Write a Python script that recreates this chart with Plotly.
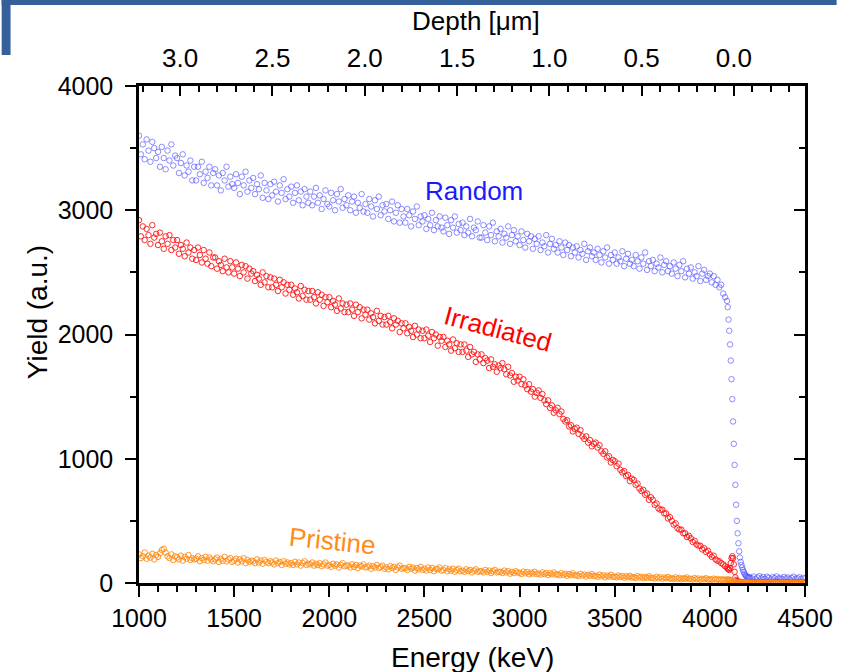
import plotly.graph_objects as go

# ---------------- data ----------------
# Energy channels (keV): 10 keV steps, finer 4 keV steps through the surface edge
energy_keV = (list(range(1000, 4090, 10)) + list(range(4090, 4210, 4))
              + list(range(4210, 4510, 10)))

random_yield = [
    3600, 3450, 3530, 3410, 3570, 3480, 3390, 3550, 3500, 3420,
    3470, 3350, 3510, 3420, 3330, 3480, 3400, 3530, 3360, 3440,
    3420, 3300, 3380, 3450, 3280, 3360, 3310, 3400, 3240, 3350,
    3240, 3350, 3290, 3390, 3220, 3310, 3260, 3350, 3200, 3300,
    3330, 3200, 3280, 3160, 3300, 3240, 3350, 3190, 3270, 3210,
    3180, 3290, 3220, 3130, 3270, 3200, 3310, 3150, 3240, 3180,
    3260, 3130, 3210, 3170, 3280, 3100, 3220, 3160, 3090, 3210,
    3120, 3230, 3150, 3070, 3200, 3140, 3250, 3090, 3170, 3110,
    3190, 3060, 3140, 3200, 3080, 3150, 3040, 3170, 3110, 3060,
    3150, 3040, 3110, 3180, 3060, 3120, 3010, 3090, 3160, 3050,
    3030, 3140, 3080, 3000, 3130, 3070, 3170, 3020, 3090, 3040,
    3120, 3000, 3070, 3110, 2980, 3060, 3020, 3130, 2990, 3050,
    2980, 3090, 3030, 2950, 3080, 3010, 3110, 2960, 3040, 2990,
    3050, 2930, 3000, 3070, 2910, 2980, 3040, 2900, 3010, 2950,
    2900, 3010, 2960, 2870, 2990, 2930, 3030, 2880, 2950, 2910,
    2960, 2850, 2930, 2880, 2980, 2840, 2920, 2870, 2950, 2860,
    2830, 2940, 2880, 2810, 2920, 2860, 2950, 2820, 2890, 2840,
    2900, 2800, 2870, 2820, 2930, 2790, 2860, 2840, 2910, 2780,
    2780, 2880, 2820, 2760, 2870, 2800, 2900, 2750, 2830, 2790,
    2850, 2740, 2810, 2780, 2870, 2730, 2800, 2840, 2750, 2790,
    2720, 2830, 2760, 2700, 2810, 2750, 2790, 2690, 2770, 2730,
    2790, 2680, 2740, 2710, 2800, 2660, 2730, 2770, 2690, 2720,
    2660, 2750, 2700, 2640, 2740, 2680, 2720, 2630, 2700, 2660,
    2710, 2620, 2680, 2650, 2730, 2600, 2670, 2700, 2630, 2660,
    2600, 2690, 2640, 2580, 2670, 2620, 2700, 2570, 2640, 2600,
    2660, 2570, 2620, 2590, 2670, 2550, 2610, 2650, 2570, 2600,
    2550, 2640, 2590, 2530, 2620, 2570, 2660, 2520, 2590, 2550,
    2600, 2510, 2570, 2540, 2620, 2500, 2560, 2590, 2510, 2550,
    2490, 2580, 2530, 2470, 2560, 2510, 2590, 2460, 2530, 2490,
    2540, 2450, 2500, 2470, 2550, 2430, 2490, 2520, 2440, 2470,
    2490, 2420, 2470, 2400, 2440, 2380, 2400, 2330, 2300,
    # surface edge (4 keV steps)
    2270, 2220, 2120, 2030, 1920, 1790, 1640, 1480, 1300, 1120,
    950, 790, 630, 500, 400, 320, 255, 205, 170, 145,
    125, 105, 90, 75, 65, 58, 52, 50, 46, 44,
    # above the edge
    45, 38, 52, 30, 44, 55, 36, 48, 33, 50,
    41, 28, 47, 39, 53, 35, 42, 31, 49, 37,
    44, 29, 40, 51, 34, 38, 46, 30, 42, 36,
]

irradiated_yield = [
    2920, 2790, 2870, 2760, 2850, 2800, 2730, 2880, 2780, 2810,
    2720, 2820, 2750, 2690, 2790, 2730, 2800, 2680, 2760, 2700,
    2760, 2650, 2720, 2690, 2630, 2740, 2660, 2700, 2610, 2680,
    2600, 2700, 2640, 2580, 2680, 2610, 2570, 2660, 2550, 2620,
    2620, 2530, 2590, 2560, 2510, 2610, 2540, 2500, 2590, 2540,
    2490, 2580, 2530, 2470, 2560, 2500, 2550, 2450, 2530, 2490,
    2510, 2430, 2480, 2450, 2400, 2500, 2420, 2470, 2380, 2460,
    2380, 2450, 2400, 2350, 2440, 2380, 2420, 2330, 2400, 2360,
    2400, 2320, 2370, 2340, 2290, 2390, 2310, 2360, 2280, 2350,
    2280, 2350, 2300, 2250, 2340, 2280, 2320, 2230, 2300, 2260,
    2300, 2220, 2270, 2240, 2190, 2290, 2210, 2250, 2180, 2240,
    2180, 2250, 2200, 2150, 2240, 2180, 2220, 2130, 2200, 2160,
    2200, 2120, 2170, 2140, 2090, 2190, 2110, 2150, 2080, 2140,
    2080, 2150, 2100, 2050, 2130, 2080, 2110, 2020, 2090, 2050,
    2090, 2010, 2060, 2030, 1980, 2070, 2000, 2040, 1970, 2030,
    1970, 2040, 1990, 1940, 2020, 1970, 2000, 1910, 1980, 1950,
    1980, 1900, 1950, 1920, 1870, 1960, 1890, 1930, 1860, 1920,
    1860, 1920, 1870, 1820, 1900, 1840, 1860, 1780, 1840, 1800,
    1840, 1770, 1810, 1790, 1730, 1800, 1740, 1760, 1700, 1750,
    1730, 1770, 1720, 1680, 1740, 1670, 1690, 1620, 1660, 1630,
    1660, 1600, 1640, 1590, 1560, 1600, 1540, 1560, 1500, 1530,
    1550, 1490, 1520, 1470, 1440, 1470, 1410, 1430, 1370, 1390,
    1410, 1360, 1380, 1320, 1300, 1310, 1260, 1270, 1220, 1240,
    1250, 1200, 1230, 1180, 1160, 1180, 1130, 1150, 1100, 1120,
    1130, 1090, 1110, 1060, 1040, 1060, 1010, 1020, 970, 990,
    980, 940, 960, 910, 890, 900, 860, 870, 820, 840,
    830, 790, 800, 760, 740, 750, 710, 720, 670, 690,
    670, 630, 640, 600, 590, 590, 560, 560, 520, 530,
    500, 470, 480, 440, 430, 430, 400, 400, 370, 380,
    360, 330, 340, 310, 300, 300, 270, 280, 250, 260,
    230, 210, 220, 190, 180, 175, 160, 150, 135,
    # surface peak (4 keV steps)
    125, 115, 110, 105, 120, 160, 200, 215, 200, 150,
    90, 45, 25, 15, 12, 10, 8, 9, 7, 8,
    6, 7, 5, 6, 5, 7, 4, 6, 5, 4,
    # above the edge
    5, 7, 4, 6, 8, 3, 5, 6, 4, 7,
    5, 3, 6, 4, 8, 5, 4, 6, 3, 5,
    7, 4, 5, 3, 6, 4, 5, 7, 3, 5,
]

pristine_yield = [
    230, 200, 215, 245, 195, 220, 205, 235, 190, 225,
    210, 240, 265, 275, 245, 215, 200, 230, 185, 215,
    205, 190, 220, 180, 210, 195, 225, 185, 200, 190,
    195, 215, 175, 200, 185, 210, 180, 205, 190, 175,
    190, 205, 170, 195, 180, 210, 175, 190, 200, 170,
    180, 195, 165, 190, 175, 200, 160, 185, 170, 180,
    175, 160, 190, 165, 180, 155, 185, 170, 160, 175,
    165, 150, 180, 160, 170, 145, 175, 155, 165, 150,
    160, 145, 170, 150, 165, 140, 160, 175, 145, 155,
    150, 165, 140, 155, 145, 160, 135, 150, 165, 140,
    145, 130, 155, 140, 150, 125, 145, 160, 135, 140,
    140, 125, 150, 130, 145, 120, 140, 135, 150, 125,
    130, 140, 115, 135, 125, 145, 120, 130, 140, 115,
    125, 110, 135, 120, 130, 105, 125, 140, 115, 120,
    120, 105, 130, 115, 125, 100, 120, 110, 130, 105,
    115, 100, 125, 105, 120, 95, 115, 110, 125, 100,
    105, 120, 95, 110, 100, 115, 90, 105, 115, 95,
    100, 90, 110, 95, 105, 85, 100, 110, 90, 95,
    95, 85, 105, 90, 100, 80, 95, 105, 85, 90,
    90, 80, 100, 85, 95, 75, 90, 80, 95, 85,
    82, 72, 92, 78, 88, 70, 84, 76, 90, 72,
    76, 68, 86, 72, 80, 64, 78, 70, 84, 68,
    70, 62, 80, 66, 74, 58, 72, 64, 78, 62,
    64, 56, 74, 60, 68, 52, 66, 58, 72, 56,
    58, 50, 68, 54, 62, 46, 60, 52, 66, 50,
    52, 46, 60, 48, 56, 42, 54, 46, 58, 44,
    47, 40, 55, 44, 50, 38, 48, 42, 54, 40,
    42, 36, 50, 38, 46, 34, 44, 38, 48, 36,
    38, 32, 45, 34, 40, 30, 38, 34, 44, 32,
    34, 28, 40, 30, 36, 26, 34, 30, 38, 28,
    30, 26, 35, 28, 32, 24, 30, 26, 28,
    # surface edge (4 keV steps)
    27, 25, 28, 24, 26, 22, 18, 12, 8, 5,
    4, 3, 2, 3, 2, 3, 2, 2, 3, 2,
    2, 3, 2, 2, 3, 2, 2, 3, 2, 2,
    # above the edge
    2, 3, 2, 2, 3, 2, 2, 1, 2, 3,
    2, 2, 3, 2, 2, 1, 2, 2, 3, 2,
    2, 2, 3, 2, 1, 2, 2, 3, 2, 2,
]

energy_ticks = [1000, 1500, 2000, 2500, 3000, 3500, 4000, 4500]
yield_ticks = [0, 1000, 2000, 3000, 4000]
depth_ticks = [0.0, 0.5, 1.0, 1.5, 2.0, 2.5, 3.0]
energy_range = [1000, 4500]
yield_range = [0, 4000]
depth_range = [3.223, -0.385]   # depth (um) at 1000 keV and at 4500 keV

assert len(energy_keV) == len(random_yield) == len(irradiated_yield) == len(pristine_yield)

# ---------------- figure ----------------
W, H = 845, 672
ML, MR, MT, MB = 139, 32, 86, 89
FONT = "Liberation Sans, Arial, Helvetica, sans-serif"


def px_x(px):
    return (px - ML) / (W - ML - MR)


def px_y(py):
    return (H - MB - py) / (H - MT - MB)


fig = go.Figure()

fig.add_trace(go.Scatter(
    x=energy_keV, y=random_yield, mode="markers", name="Random",
    marker=dict(symbol="circle-open", size=5.5, color="rgba(80,80,255,0.65)",
                line=dict(width=1)),
    showlegend=False, hoverinfo="skip"))
fig.add_trace(go.Scatter(
    x=energy_keV, y=irradiated_yield, mode="markers", name="Irradiated",
    marker=dict(symbol="circle-open", size=5.5, color="rgba(255,20,20,0.9)",
                line=dict(width=1)),
    showlegend=False, hoverinfo="skip"))
fig.add_trace(go.Scatter(
    x=energy_keV, y=pristine_yield, mode="markers", name="Pristine",
    marker=dict(symbol="circle-open", size=5.5, color="rgba(255,140,20,0.9)",
                line=dict(width=1)),
    showlegend=False, hoverinfo="skip"))
# empty trace to host the depth (top) and mirrored right axes
fig.add_trace(go.Scatter(x=[], y=[], xaxis="x2", yaxis="y2",
                         showlegend=False, hoverinfo="skip"))

axis_common = dict(showline=True, linecolor="black", linewidth=2.5,
                   showgrid=False, zeroline=False, tickcolor="black",
                   tickwidth=2)
tick_font = dict(family=FONT, size=25, color="black")

fig.update_layout(
    width=W, height=H,
    margin=dict(l=ML, r=MR, t=MT, b=MB, pad=0),
    paper_bgcolor="white", plot_bgcolor="white",
    font=dict(family=FONT, color="black"),
    xaxis=dict(range=energy_range, tickvals=energy_ticks, ticks="outside",
               ticklen=11, ticklabelstandoff=0, tickfont=tick_font,
               minor=dict(dtick=100, tick0=1000, ticks="outside", ticklen=6,
                          tickwidth=2, tickcolor="black"),
               **axis_common),
    yaxis=dict(range=yield_range, tickvals=yield_ticks, ticks="outside",
               ticklen=11, ticklabelstandoff=7, tickfont=tick_font,
               minor=dict(dtick=500, tick0=0, ticks="outside", ticklen=6,
                          tickwidth=2, tickcolor="black"),
               **axis_common),
    xaxis2=dict(range=depth_range, overlaying="x", side="top", anchor="y2",
                tickvals=depth_ticks, tickformat=".1f", ticks="inside",
                ticklen=10, ticklabelstandoff=6,
                tickfont=dict(family=FONT, size=26, color="black"),
                minor=dict(dtick=0.1, tick0=0, ticks="inside", ticklen=6,
                           tickwidth=2, tickcolor="black"),
                **axis_common),
    yaxis2=dict(range=yield_range, overlaying="y", side="right", anchor="x2",
                tickvals=yield_ticks, ticks="inside", ticklen=11,
                showticklabels=False,
                minor=dict(dtick=500, tick0=0, ticks="inside", ticklen=6,
                           tickwidth=2, tickcolor="black"),
                **axis_common),
)

# slide decoration (blue bars)
fig.add_shape(type="rect", xref="paper", yref="paper",
              x0=px_x(0), x1=px_x(W), y0=px_y(5), y1=px_y(0),
              fillcolor="#35609a", line=dict(width=0), layer="above")
fig.add_shape(type="rect", xref="paper", yref="paper",
              x0=px_x(0), x1=px_x(9), y0=px_y(55), y1=px_y(0),
              fillcolor="#35609a", line=dict(width=0), layer="above")

# axis titles
fig.add_annotation(text="Energy (keV)", xref="paper", yref="paper",
                   x=px_x(477), y=px_y(657), xanchor="center", yanchor="middle",
                   showarrow=False, font=dict(family=FONT, size=28, color="black"))
fig.add_annotation(text="Yield (a.u.)", xref="paper", yref="paper",
                   x=px_x(36), y=px_y(312), xanchor="center", yanchor="middle",
                   textangle=-90, showarrow=False,
                   font=dict(family=FONT, size=28, color="black"))
fig.add_annotation(text="Depth [\u03bcm]", xref="paper", yref="paper",
                   x=px_x(480), y=px_y(21), xanchor="center", yanchor="middle",
                   showarrow=False, font=dict(family=FONT, size=26, color="black"))

# series labels
fig.add_annotation(text="Random", xref="paper", yref="paper",
                   x=px_x(478), y=px_y(191), xanchor="center", yanchor="middle",
                   showarrow=False, font=dict(family=FONT, size=26, color="#1a1aff"))
fig.add_annotation(text="Irradiated", xref="paper", yref="paper",
                   x=px_x(502), y=px_y(329), xanchor="center", yanchor="middle",
                   textangle=15, showarrow=False,
                   font=dict(family=FONT, size=26, color="#ff0000"))
fig.add_annotation(text="Pristine", xref="paper", yref="paper",
                   x=px_x(335), y=px_y(541), xanchor="center", yanchor="middle",
                   textangle=6, showarrow=False,
                   font=dict(family=FONT, size=26, color="#ff8c1a"))

fig.write_html("out.html")
